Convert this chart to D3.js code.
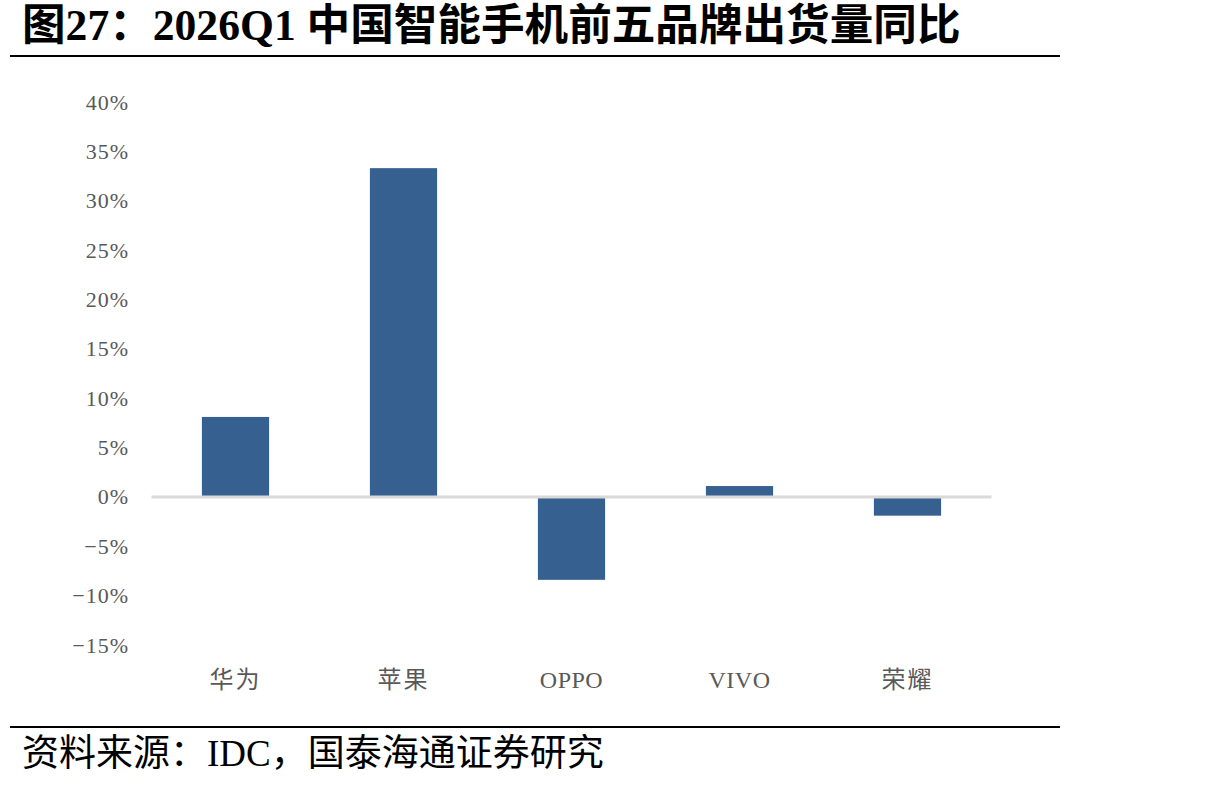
<!DOCTYPE html>
<html>
<head>
<meta charset="utf-8">
<script src="https://cdn.jsdelivr.net/npm/d3@7"></script>
<style>
  body { margin: 0; background: #fff; }
  svg { display: block; }
</style>
</head>
<body>
<svg width="1215" height="787"></svg>
<script>
// 2026Q1 top-5 brand shipments, YoY
var brands = ["华为", "苹果", "OPPO", "VIVO", "荣耀"];
var yoy = [0.081, 0.333, -0.084, 0.011, -0.019];
var yTicks = [-0.15, -0.10, -0.05, 0, 0.05, 0.10, 0.15, 0.20, 0.25, 0.30, 0.35, 0.40];

var titleText = "图27：2026Q1 中国智能手机前五品牌出货量同比";
var sourceText = "资料来源：IDC，国泰海通证券研究";

var svg = d3.select("svg");
var serif = "'Liberation Serif', 'Noto Sans CJK SC', serif";

var x = d3.scaleBand()
    .domain(brands)
    .range([151.5, 991.5])
    .paddingInner(0.6)
    .paddingOuter(0.3);

var y = d3.scaleLinear()
    .domain([-0.15, 0.40])
    .range([645, 102]);

// title + rules
svg.append("text")
    .attr("x", 22)
    .attr("y", 40)
    .attr("font-family", serif)
    .attr("font-weight", "bold")
    .attr("font-size", 43.6)
    .attr("fill", "#000")
    .text(titleText);

svg.append("line")
    .attr("x1", 10).attr("x2", 1060)
    .attr("y1", 56).attr("y2", 56)
    .attr("stroke", "#000").attr("stroke-width", 2);

svg.append("line")
    .attr("x1", 10).attr("x2", 1060)
    .attr("y1", 727).attr("y2", 727)
    .attr("stroke", "#000").attr("stroke-width", 2);

svg.append("text")
    .attr("x", 22)
    .attr("y", 766)
    .attr("font-family", serif)
    .attr("font-size", 37)
    .attr("fill", "#000")
    .text(sourceText);

// y axis labels (no axis line)
var yAxis = d3.axisLeft(y)
    .tickValues(yTicks)
    .tickSize(0)
    .tickPadding(0)
    .tickFormat(function(d) {
      var v = Math.round(d * 100);
      return (v < 0 ? "\u2212" + (-v) : v) + "%";
    });

var gy = svg.append("g")
    .attr("transform", "translate(129,0)")
    .call(yAxis);
gy.select(".domain").remove();
gy.selectAll("text")
    .attr("font-family", serif)
    .attr("font-size", 22)
    .attr("letter-spacing", 1)
    .attr("fill", "#595959");

// bars
svg.append("g")
  .selectAll("rect")
  .data(brands)
  .enter().append("rect")
    .attr("x", function(d) { return x(d); })
    .attr("width", x.bandwidth())
    .attr("y", function(d, i) { return y(Math.max(0, yoy[i])); })
    .attr("height", function(d, i) { return Math.abs(y(yoy[i]) - y(0)); })
    .attr("fill", "#36608f");

// zero line
svg.append("line")
    .attr("x1", x.range()[0]).attr("x2", x.range()[1])
    .attr("y1", y(0)).attr("y2", y(0))
    .attr("stroke", "#d9d9d9").attr("stroke-width", 3);

// x labels
var xAxis = d3.axisBottom(x).tickSize(0).tickPadding(0);
var gx = svg.append("g")
    .attr("transform", "translate(0,680)")
    .call(xAxis);
gx.select(".domain").remove();
gx.selectAll("text")
    .attr("dy", "0.35em")
    .attr("font-family", serif)
    .attr("font-size", 24)
    .attr("letter-spacing", function(d) { return /^[A-Z]+$/.test(d) ? 0.5 : 2; })
    .attr("fill", "#595959");
</script>
</body>
</html>
